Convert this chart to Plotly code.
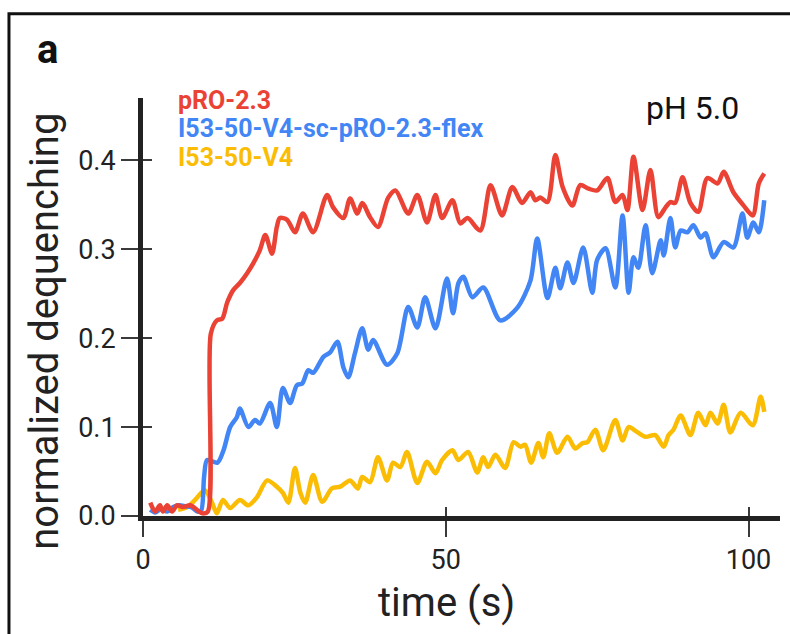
import plotly.graph_objects as go

# ---------------- data ----------------
red_t = [1.2, 2.0, 2.8, 3.3, 4.0, 4.8, 5.6, 6.6, 7.8, 8.9, 9.8, 10.7, 11.2, 12.2, 13.1, 13.9,
         14.9, 16.0, 17.2, 18.2, 19.3, 20.2, 21.3, 22.1, 22.6, 23.8, 25.1, 26.4, 28.1, 30.4,
         31.4, 33.1, 34.2, 35.4, 36.2, 37.5, 38.8, 40.5, 41.7, 43.8, 45.3, 46.9, 48.3, 49.4,
         51.1, 52.4, 53.6, 55.7, 57.4, 59.3, 61.0, 62.6, 64.0, 64.8, 65.6, 66.8, 68.1, 69.3,
         70.9, 72.2, 73.6, 75.0, 76.7, 78.0, 79.2, 80.0, 81.0, 82.5, 83.8, 85.1, 86.3, 87.1,
         87.9, 89.1, 90.4, 91.7, 93.2, 94.9, 95.9, 97.5, 99.2, 100.7, 101.7, 102.6]
red_v = [0.015, 0.005, 0.012, 0.005, 0.012, 0.005, 0.012, 0.010, 0.012, 0.007, 0.003, 0.005,
         0.205, 0.220, 0.222, 0.240, 0.254, 0.262, 0.273, 0.284, 0.299, 0.316, 0.295, 0.325,
         0.335, 0.333, 0.319, 0.340, 0.319, 0.361, 0.347, 0.335, 0.357, 0.340, 0.352, 0.336,
         0.325, 0.358, 0.366, 0.340, 0.361, 0.330, 0.361, 0.335, 0.355, 0.329, 0.335, 0.321,
         0.372, 0.338, 0.370, 0.352, 0.364, 0.355, 0.358, 0.353, 0.406, 0.370, 0.349, 0.372,
         0.368, 0.366, 0.380, 0.353, 0.361, 0.344, 0.404, 0.344, 0.389, 0.336, 0.347, 0.353,
         0.352, 0.381, 0.352, 0.342, 0.380, 0.374, 0.387, 0.364, 0.349, 0.338, 0.374, 0.385]

blue_t = [1.2, 2.0, 3.0, 4.0, 5.0, 6.0, 7.0, 8.0, 9.0, 9.6, 10.1, 10.6, 12.3, 13.3, 14.4, 15.5,
          16.0, 17.4, 18.5, 19.3, 21.0, 22.1, 23.1, 24.3, 25.4, 26.3, 27.3, 28.1, 29.8, 30.9,
          32.1, 33.1, 33.9, 35.0, 36.2, 37.2, 38.0, 40.3, 42.0, 43.8, 45.3, 46.6, 48.3, 50.2,
          51.2, 52.1, 52.9, 54.4, 56.2, 59.0, 61.8, 64.0, 65.1, 66.8, 68.1, 68.9, 70.1, 71.1,
          72.7, 74.2, 75.0, 76.4, 78.0, 79.2, 80.2, 81.0, 81.8, 83.0, 84.1, 85.5, 86.0, 87.1,
          87.9, 88.8, 89.9, 90.9, 92.1, 92.9, 94.2, 95.9, 97.5, 99.0, 99.8, 100.8, 101.7, 102.6]
blue_v = [0.007, 0.004, 0.008, 0.005, 0.010, 0.012, 0.011, 0.010, 0.005, 0.006, 0.045, 0.063,
          0.060, 0.074, 0.100, 0.111, 0.121, 0.100, 0.108, 0.104, 0.127, 0.100, 0.144, 0.127,
          0.147, 0.149, 0.164, 0.161, 0.179, 0.184, 0.196, 0.167, 0.156, 0.183, 0.211, 0.187,
          0.198, 0.170, 0.183, 0.235, 0.212, 0.246, 0.211, 0.267, 0.228, 0.262, 0.269, 0.246,
          0.257, 0.220, 0.234, 0.265, 0.312, 0.245, 0.279, 0.256, 0.285, 0.262, 0.302, 0.251,
          0.288, 0.301, 0.257, 0.338, 0.251, 0.291, 0.279, 0.327, 0.273, 0.310, 0.293, 0.335,
          0.302, 0.321, 0.319, 0.327, 0.313, 0.318, 0.291, 0.308, 0.302, 0.340, 0.313, 0.330,
          0.319, 0.355]

yellow_t = [5.8, 7.3, 8.6, 10.2, 11.4, 12.2, 13.2, 14.4, 16.0, 17.4, 18.8, 20.5, 22.1, 23.1,
            24.0, 25.1, 26.0, 26.8, 28.1, 29.6, 31.2, 32.6, 34.2, 35.5, 36.2, 37.5, 38.8, 40.3,
            41.3, 42.5, 43.6, 45.3, 46.9, 48.3, 49.4, 51.1, 52.1, 53.7, 55.2, 56.2, 57.0, 58.2,
            59.8, 61.2, 62.3, 63.1, 64.1, 65.3, 66.1, 67.1, 68.4, 70.1, 71.4, 72.6, 73.4, 74.7,
            76.0, 78.0, 79.2, 80.2, 81.7, 83.0, 84.6, 86.0, 86.8, 87.6, 88.8, 90.4, 91.7, 92.9,
            93.7, 94.9, 95.9, 97.0, 98.7, 100.7, 102.0, 102.6]
yellow_v = [0.007, 0.010, 0.018, 0.029, 0.015, 0.003, 0.018, 0.009, 0.018, 0.012, 0.021, 0.040,
            0.033, 0.026, 0.015, 0.054, 0.026, 0.015, 0.046, 0.016, 0.031, 0.033, 0.040, 0.031,
            0.044, 0.038, 0.066, 0.040, 0.060, 0.055, 0.072, 0.037, 0.061, 0.048, 0.063, 0.074,
            0.063, 0.072, 0.049, 0.066, 0.055, 0.069, 0.054, 0.083, 0.078, 0.080, 0.060, 0.082,
            0.066, 0.093, 0.071, 0.089, 0.076, 0.082, 0.083, 0.097, 0.074, 0.108, 0.085, 0.100,
            0.094, 0.089, 0.091, 0.078, 0.091, 0.097, 0.113, 0.091, 0.116, 0.102, 0.116, 0.104,
            0.125, 0.094, 0.116, 0.102, 0.134, 0.117]

series_names = ["pRO-2.3", "I53-50-V4-sc-pRO-2.3-flex", "I53-50-V4"]
series_colors = ["#EA4335", "#4285F4", "#FBBC04"]
x_ticks = [0, 50, 100]
y_ticks = [0.0, 0.1, 0.2, 0.3, 0.4]
x_title = "time (s)"
y_title = "normalized dequenching"
panel_label = "a"
condition_label = "pH 5.0"

FONT = "Roboto, 'Open Sans', sans-serif"
AXIS_COLOR = "#222222"
TICK_COLOR = "#3a3a3a"

fig = go.Figure()
for t, v, name, col in [(yellow_t, yellow_v, series_names[2], series_colors[2]),
                        (blue_t, blue_v, series_names[1], series_colors[1]),
                        (red_t, red_v, series_names[0], series_colors[0])]:
    fig.add_trace(go.Scatter(x=t, y=v, mode="lines", name=name,
                             line=dict(color=col, width=4.5, shape="spline", smoothing=0.8),
                             showlegend=False, hoverinfo="skip"))

# empty trace to host the overlay axes that draw the inner half of the crossing ticks
fig.add_trace(go.Scatter(x=[], y=[], xaxis="x2", yaxis="y2", showlegend=False))

x_range = [0, 105.2]
y_range = [0, 0.47]

fig.update_layout(
    width=790, height=634,
    margin=dict(l=143, r=10, t=98, b=118),
    paper_bgcolor="white", plot_bgcolor="white",
    font=dict(family=FONT, color="#222222"),
    xaxis=dict(range=x_range, tickvals=x_ticks, showgrid=False, zeroline=False,
               showline=True, linecolor=AXIS_COLOR, linewidth=5,
               ticks="outside", ticklen=16, tickwidth=1.5, tickcolor=TICK_COLOR,
               tickfont=dict(size=27, color="#222222", family=FONT)),
    yaxis=dict(range=y_range, tickvals=y_ticks, tickformat=".1f", showgrid=False,
               zeroline=False, showline=True, linecolor=AXIS_COLOR, linewidth=5,
               ticks="outside", ticklen=17, tickwidth=1.5, tickcolor=TICK_COLOR,
               tickfont=dict(size=27, color="#222222", family=FONT)),
    xaxis2=dict(overlaying="x", range=x_range, tickvals=x_ticks, showticklabels=False,
                showgrid=False, zeroline=False, showline=False, ticks="inside",
                ticklen=9, tickwidth=1.5, tickcolor=TICK_COLOR, anchor="y2"),
    yaxis2=dict(overlaying="y", range=y_range, tickvals=y_ticks, showticklabels=False,
                showgrid=False, zeroline=False, showline=False, ticks="inside",
                ticklen=9, tickwidth=1.5, tickcolor=TICK_COLOR, anchor="x2"),
)

# outer panel frame (left and top edges visible; others run off the image)
fig.add_shape(type="rect", xref="paper", yref="paper", x0=-0.2104, x1=1.2, y0=-0.6, y1=1.2017,
              line=dict(color="#111111", width=3), fillcolor="rgba(0,0,0,0)", layer="above")

ann = []
ann.append(dict(text=f"<b>{panel_label}</b>", x=-0.1507, y=1.117, xref="paper", yref="paper",
                xanchor="center", yanchor="middle", showarrow=False,
                font=dict(size=40, color="#111111", family=FONT)))
legend_y = [0.995, 0.927, 0.857]
for name, col, yy in zip(series_names, series_colors, legend_y):
    ann.append(dict(text=f"<b>{name}</b>", x=0.052, y=yy, xref="paper", yref="paper",
                    xanchor="left", yanchor="middle", showarrow=False,
                    font=dict(size=25, color=col, family=FONT)))
ann.append(dict(text=condition_label, x=0.863, y=0.976, xref="paper", yref="paper",
                xanchor="center", yanchor="middle", showarrow=False,
                font=dict(size=32, color="#111111", family=FONT)))
ann.append(dict(text=x_title, x=0.477, y=-0.206, xref="paper", yref="paper",
                xanchor="center", yanchor="middle", showarrow=False,
                font=dict(size=40, color="#222222", family=FONT)))
ann.append(dict(text=y_title, x=-0.154, y=0.443, xref="paper", yref="paper",
                xanchor="center", yanchor="middle", showarrow=False, textangle=-90,
                font=dict(size=40, color="#222222", family=FONT)))
fig.update_layout(annotations=ann)

fig.write_html("out.html")
